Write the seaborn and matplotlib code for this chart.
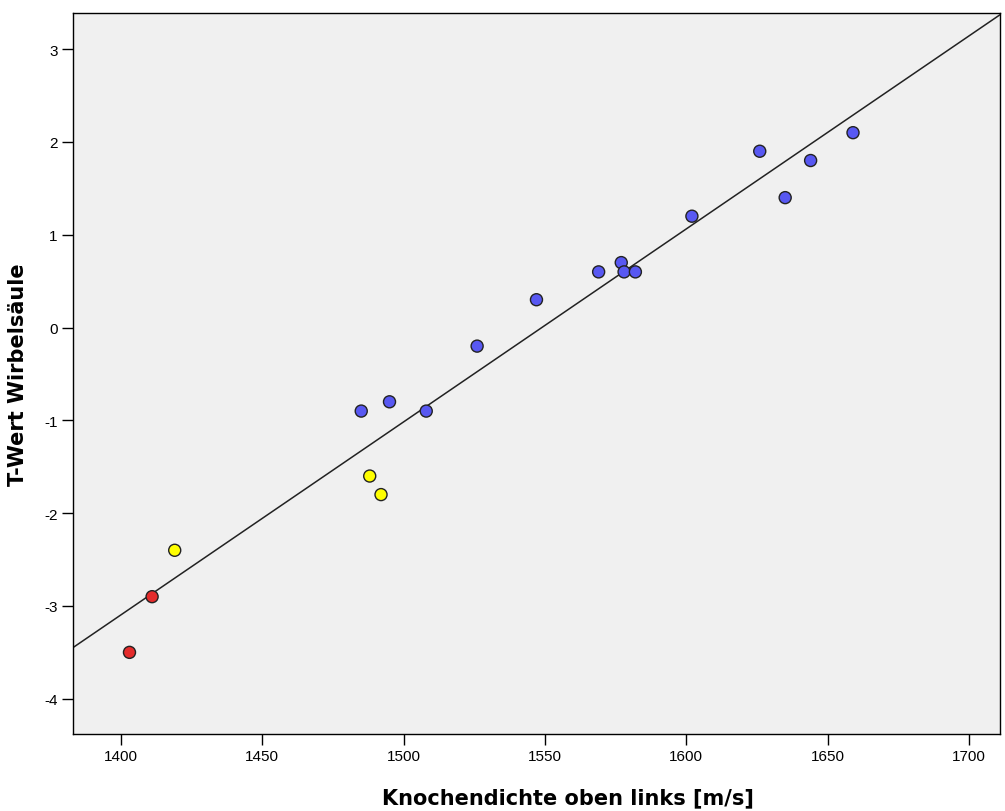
import numpy as np
import pandas as pd
import matplotlib
matplotlib.use("Agg")
import matplotlib.pyplot as plt
import seaborn as sns

# data
knochendichte = [1485, 1495, 1508, 1526, 1547, 1569, 1577, 1578, 1582, 1602,
                 1626, 1635, 1644, 1659,
                 1419, 1488, 1492,
                 1411, 1403]
t_wert = [-0.9, -0.8, -0.9, -0.2, 0.3, 0.6, 0.7, 0.6, 0.6, 1.2,
          1.9, 1.4, 1.8, 2.1,
          -2.4, -1.6, -1.8,
          -2.9, -3.5]
gruppe = ["normal"] * 14 + ["osteopenie"] * 3 + ["osteoporose"] * 2

farben = {"normal": "#5858F2", "osteopenie": "#FFFF00", "osteoporose": "#E42B2B"}

df = pd.DataFrame({"x": knochendichte, "y": t_wert, "gruppe": gruppe})

sns.set_style("white")
plt.rcParams['font.family'] = ['Liberation Sans', 'DejaVu Sans']
plt.rcParams['axes.unicode_minus'] = False
plt.rcParams['text.color'] = 'black'
plt.rcParams['axes.labelcolor'] = 'black'
plt.rcParams['xtick.color'] = 'black'
plt.rcParams['ytick.color'] = 'black'

fig = plt.figure(figsize=(10.05, 8.12), dpi=100)
ax = fig.add_axes([0.0726, 0.0948, 0.9224, 0.888])
ax.set_facecolor("#F0F0F0")

ax.set_xlim(1383, 1711)
ax.set_ylim(-4.38, 3.39)

# regression line across the whole axis
sns.regplot(data=df, x="x", y="y", scatter=False, ci=None, truncate=False,
            line_kws={"color": "#222222", "linewidth": 1.1}, ax=ax)

sns.scatterplot(data=df, x="x", y="y", hue="gruppe", palette=farben,
                s=75, edgecolor="#222222", linewidth=1.0, legend=False,
                zorder=3, ax=ax)

ax.set_xlim(1383, 1711)
ax.set_ylim(-4.38, 3.39)
ax.set_xticks([1400, 1450, 1500, 1550, 1600, 1650, 1700])
ax.set_yticks([-4, -3, -2, -1, 0, 1, 2, 3])
ax.tick_params(axis="both", direction="out", length=8, width=1, color="black",
               labelsize=11, bottom=True, left=True, pad=3)
for s in ax.spines.values():
    s.set_color("black")
    s.set_linewidth(1.0)

ax.set_xlabel("Knochendichte oben links [m/s]", fontsize=15, fontweight="bold",
              family="DejaVu Sans")
ax.set_ylabel("T-Wert Wirbelsäule", fontsize=15, fontweight="bold",
              family="DejaVu Sans", labelpad=12)
ax.xaxis.set_label_coords(0.534, -0.074)

fig.savefig("out.png", dpi=100)
